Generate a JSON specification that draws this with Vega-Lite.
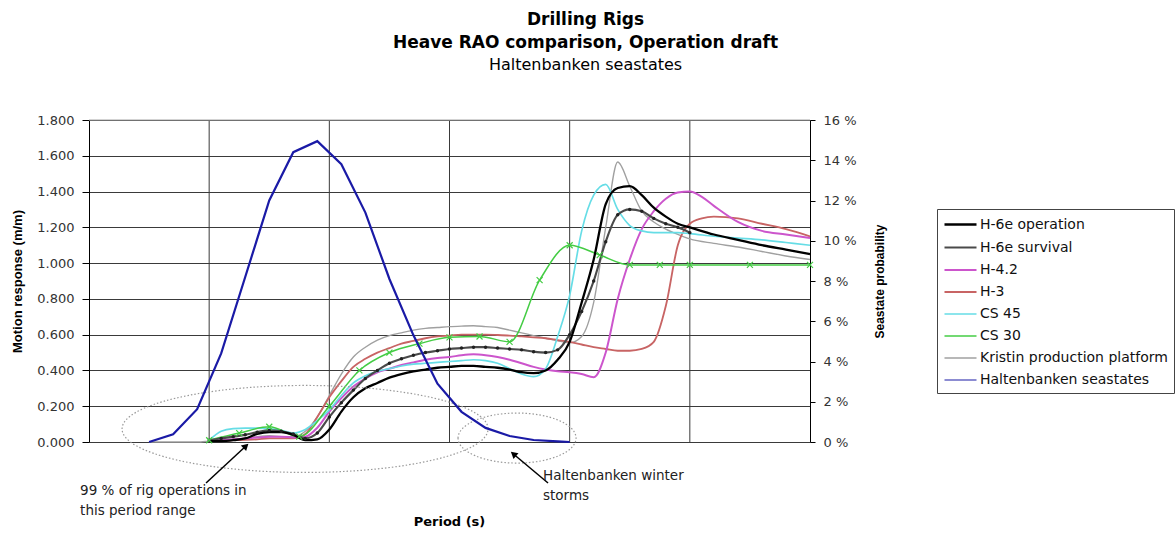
{
  "$schema": "https://vega.github.io/schema/vega-lite/v6.json",
  "width": 721,
  "height": 322,
  "autosize": "none",
  "padding": {"left": 89, "top": 120, "right": 365, "bottom": 93},
  "background": "#ffffff",
  "title": {
    "text": ["Drilling Rigs", "Heave RAO comparison, Operation draft"],
    "subtitle": "Haltenbanken seastates",
    "anchor": "middle",
    "frame": "group",
    "dx": 136,
    "offset": 40,
    "font": "DejaVu Sans",
    "fontSize": 17,
    "fontWeight": "bold",
    "lineHeight": 23,
    "color": "#000",
    "subtitleFont": "DejaVu Sans",
    "subtitleFontSize": 16,
    "subtitleColor": "#000",
    "subtitlePadding": 5,
    "subtitleLineHeight": 20
  },
  "config": {
    "view": {"stroke": null},
    "font": "DejaVu Sans",
    "axis": {
      "labelFont": "DejaVu Sans",
      "labelFontSize": 13,
      "labelColor": "#333",
      "domainColor": "#000",
      "tickColor": "#000",
      "gridColor": "#3a3a3a",
      "gridWidth": 1,
      "titleColor": "#000"
    }
  },
  "datasets": {
    "rao": [
      {"series":"Kristin production platform","t":2.5,"v":0},{"series":"Kristin production platform","t":3,"v":0},{"series":"Kristin production platform","t":3.5,"v":0},{"series":"Kristin production platform","t":4,"v":0},{"series":"Kristin production platform","t":4.5,"v":0},{"series":"Kristin production platform","t":5,"v":0.005},{"series":"Kristin production platform","t":5.5,"v":0.01},{"series":"Kristin production platform","t":6,"v":0.015},{"series":"Kristin production platform","t":6.5,"v":0.02},{"series":"Kristin production platform","t":7,"v":0.03},{"series":"Kristin production platform","t":7.5,"v":0.035},{"series":"Kristin production platform","t":8,"v":0.03},{"series":"Kristin production platform","t":8.5,"v":0.03},{"series":"Kristin production platform","t":9,"v":0.06},{"series":"Kristin production platform","t":9.5,"v":0.14},{"series":"Kristin production platform","t":10,"v":0.26},{"series":"Kristin production platform","t":10.5,"v":0.38},{"series":"Kristin production platform","t":11,"v":0.475},{"series":"Kristin production platform","t":11.5,"v":0.53},{"series":"Kristin production platform","t":12,"v":0.57},{"series":"Kristin production platform","t":12.5,"v":0.595},{"series":"Kristin production platform","t":13,"v":0.61},{"series":"Kristin production platform","t":13.5,"v":0.625},{"series":"Kristin production platform","t":14,"v":0.635},{"series":"Kristin production platform","t":14.5,"v":0.64},{"series":"Kristin production platform","t":15,"v":0.645},{"series":"Kristin production platform","t":15.5,"v":0.648},{"series":"Kristin production platform","t":16,"v":0.65},{"series":"Kristin production platform","t":16.5,"v":0.645},{"series":"Kristin production platform","t":17,"v":0.64},{"series":"Kristin production platform","t":17.5,"v":0.625},{"series":"Kristin production platform","t":18,"v":0.61},{"series":"Kristin production platform","t":18.5,"v":0.595},{"series":"Kristin production platform","t":19,"v":0.58},{"series":"Kristin production platform","t":19.5,"v":0.565},{"series":"Kristin production platform","t":20,"v":0.555},{"series":"Kristin production platform","t":20.5,"v":0.59},{"series":"Kristin production platform","t":21,"v":0.78},{"series":"Kristin production platform","t":21.5,"v":1.2},{"series":"Kristin production platform","t":22,"v":1.565},{"series":"Kristin production platform","t":22.5,"v":1.43},{"series":"Kristin production platform","t":23,"v":1.29},{"series":"Kristin production platform","t":23.5,"v":1.23},{"series":"Kristin production platform","t":24,"v":1.19},{"series":"Kristin production platform","t":24.5,"v":1.16},{"series":"Kristin production platform","t":25,"v":1.135},{"series":"Kristin production platform","t":26,"v":1.11},{"series":"Kristin production platform","t":27,"v":1.09},{"series":"Kristin production platform","t":28,"v":1.065},{"series":"Kristin production platform","t":29,"v":1.04},{"series":"Kristin production platform","t":30,"v":1.02},

      {"series":"H-3","t":5,"v":0.005},{"series":"H-3","t":5.5,"v":0.005},{"series":"H-3","t":6,"v":0.01},{"series":"H-3","t":6.5,"v":0.012},{"series":"H-3","t":7,"v":0.015},{"series":"H-3","t":7.5,"v":0.02},{"series":"H-3","t":8,"v":0.02},{"series":"H-3","t":8.5,"v":0.02},{"series":"H-3","t":9,"v":0.045},{"series":"H-3","t":9.5,"v":0.14},{"series":"H-3","t":10,"v":0.25},{"series":"H-3","t":10.5,"v":0.34},{"series":"H-3","t":11,"v":0.42},{"series":"H-3","t":11.5,"v":0.465},{"series":"H-3","t":12,"v":0.5},{"series":"H-3","t":12.5,"v":0.525},{"series":"H-3","t":13,"v":0.55},{"series":"H-3","t":13.5,"v":0.565},{"series":"H-3","t":14,"v":0.58},{"series":"H-3","t":14.5,"v":0.59},{"series":"H-3","t":15,"v":0.595},{"series":"H-3","t":15.5,"v":0.6},{"series":"H-3","t":16,"v":0.6},{"series":"H-3","t":16.5,"v":0.6},{"series":"H-3","t":17,"v":0.598},{"series":"H-3","t":17.5,"v":0.595},{"series":"H-3","t":18,"v":0.59},{"series":"H-3","t":18.5,"v":0.585},{"series":"H-3","t":19,"v":0.58},{"series":"H-3","t":19.5,"v":0.57},{"series":"H-3","t":20,"v":0.56},{"series":"H-3","t":20.5,"v":0.545},{"series":"H-3","t":21,"v":0.53},{"series":"H-3","t":21.5,"v":0.52},{"series":"H-3","t":22,"v":0.51},{"series":"H-3","t":22.5,"v":0.51},{"series":"H-3","t":23,"v":0.52},{"series":"H-3","t":23.5,"v":0.56},{"series":"H-3","t":24,"v":0.76},{"series":"H-3","t":24.5,"v":1.1},{"series":"H-3","t":25,"v":1.22},{"series":"H-3","t":25.5,"v":1.25},{"series":"H-3","t":26,"v":1.26},{"series":"H-3","t":27,"v":1.25},{"series":"H-3","t":28,"v":1.22},{"series":"H-3","t":29,"v":1.19},{"series":"H-3","t":30,"v":1.15},

      {"series":"H-4.2","t":5,"v":0.005},{"series":"H-4.2","t":5.5,"v":0.01},{"series":"H-4.2","t":6,"v":0.015},{"series":"H-4.2","t":6.5,"v":0.02},{"series":"H-4.2","t":7,"v":0.025},{"series":"H-4.2","t":7.5,"v":0.03},{"series":"H-4.2","t":8,"v":0.03},{"series":"H-4.2","t":8.5,"v":0.025},{"series":"H-4.2","t":9,"v":0.03},{"series":"H-4.2","t":9.5,"v":0.08},{"series":"H-4.2","t":10,"v":0.17},{"series":"H-4.2","t":10.5,"v":0.245},{"series":"H-4.2","t":11,"v":0.31},{"series":"H-4.2","t":11.5,"v":0.355},{"series":"H-4.2","t":12,"v":0.39},{"series":"H-4.2","t":12.5,"v":0.41},{"series":"H-4.2","t":13,"v":0.43},{"series":"H-4.2","t":13.5,"v":0.445},{"series":"H-4.2","t":14,"v":0.46},{"series":"H-4.2","t":14.5,"v":0.47},{"series":"H-4.2","t":15,"v":0.475},{"series":"H-4.2","t":15.5,"v":0.485},{"series":"H-4.2","t":16,"v":0.49},{"series":"H-4.2","t":16.5,"v":0.485},{"series":"H-4.2","t":17,"v":0.475},{"series":"H-4.2","t":17.5,"v":0.46},{"series":"H-4.2","t":18,"v":0.44},{"series":"H-4.2","t":18.5,"v":0.42},{"series":"H-4.2","t":19,"v":0.405},{"series":"H-4.2","t":19.5,"v":0.395},{"series":"H-4.2","t":20,"v":0.39},{"series":"H-4.2","t":20.5,"v":0.38},{"series":"H-4.2","t":21,"v":0.362},{"series":"H-4.2","t":21.5,"v":0.5},{"series":"H-4.2","t":22,"v":0.8},{"series":"H-4.2","t":22.5,"v":1.02},{"series":"H-4.2","t":23,"v":1.19},{"series":"H-4.2","t":23.5,"v":1.29},{"series":"H-4.2","t":24,"v":1.36},{"series":"H-4.2","t":24.5,"v":1.395},{"series":"H-4.2","t":25,"v":1.4},{"series":"H-4.2","t":25.5,"v":1.37},{"series":"H-4.2","t":26,"v":1.32},{"series":"H-4.2","t":27,"v":1.23},{"series":"H-4.2","t":28,"v":1.18},{"series":"H-4.2","t":29,"v":1.16},{"series":"H-4.2","t":30,"v":1.14},

      {"series":"CS 45","t":5,"v":0.01},{"series":"CS 45","t":5.5,"v":0.06},{"series":"CS 45","t":6,"v":0.075},{"series":"CS 45","t":6.5,"v":0.078},{"series":"CS 45","t":7,"v":0.078},{"series":"CS 45","t":7.5,"v":0.075},{"series":"CS 45","t":8,"v":0.065},{"series":"CS 45","t":8.5,"v":0.05},{"series":"CS 45","t":9,"v":0.07},{"series":"CS 45","t":9.5,"v":0.12},{"series":"CS 45","t":10,"v":0.18},{"series":"CS 45","t":10.5,"v":0.26},{"series":"CS 45","t":11,"v":0.33},{"series":"CS 45","t":11.5,"v":0.37},{"series":"CS 45","t":12,"v":0.395},{"series":"CS 45","t":12.5,"v":0.41},{"series":"CS 45","t":13,"v":0.425},{"series":"CS 45","t":13.5,"v":0.435},{"series":"CS 45","t":14,"v":0.44},{"series":"CS 45","t":14.5,"v":0.445},{"series":"CS 45","t":15,"v":0.45},{"series":"CS 45","t":15.5,"v":0.455},{"series":"CS 45","t":16,"v":0.46},{"series":"CS 45","t":16.5,"v":0.455},{"series":"CS 45","t":17,"v":0.44},{"series":"CS 45","t":17.5,"v":0.41},{"series":"CS 45","t":18,"v":0.38},{"series":"CS 45","t":18.5,"v":0.365},{"series":"CS 45","t":19,"v":0.41},{"series":"CS 45","t":19.5,"v":0.59},{"series":"CS 45","t":20,"v":0.82},{"series":"CS 45","t":20.5,"v":1.18},{"series":"CS 45","t":21,"v":1.38},{"series":"CS 45","t":21.5,"v":1.44},{"series":"CS 45","t":22,"v":1.3},{"series":"CS 45","t":22.5,"v":1.21},{"series":"CS 45","t":23,"v":1.18},{"series":"CS 45","t":23.5,"v":1.17},{"series":"CS 45","t":24,"v":1.17},{"series":"CS 45","t":24.5,"v":1.17},{"series":"CS 45","t":25,"v":1.165},{"series":"CS 45","t":26,"v":1.15},{"series":"CS 45","t":27,"v":1.14},{"series":"CS 45","t":28,"v":1.13},{"series":"CS 45","t":29,"v":1.115},{"series":"CS 45","t":30,"v":1.1},

      {"series":"CS 30","t":5,"v":0.01},{"series":"CS 30","t":6.25,"v":0.05},{"series":"CS 30","t":7.5,"v":0.085},{"series":"CS 30","t":8.75,"v":0.03},{"series":"CS 30","t":10,"v":0.2},{"series":"CS 30","t":11.25,"v":0.4},{"series":"CS 30","t":12.5,"v":0.5},{"series":"CS 30","t":13.75,"v":0.55},{"series":"CS 30","t":15,"v":0.585},{"series":"CS 30","t":16.25,"v":0.59},{"series":"CS 30","t":17.5,"v":0.56},{"series":"CS 30","t":18.75,"v":0.905},{"series":"CS 30","t":20,"v":1.1},{"series":"CS 30","t":21.25,"v":1.045},{"series":"CS 30","t":22.5,"v":0.99},{"series":"CS 30","t":23.75,"v":0.99},{"series":"CS 30","t":25,"v":0.99},{"series":"CS 30","t":27.5,"v":0.99},{"series":"CS 30","t":30,"v":0.99},

      {"series":"H-6e survival","t":5,"v":0.01},{"series":"H-6e survival","t":5.5,"v":0.02},{"series":"H-6e survival","t":6,"v":0.03},{"series":"H-6e survival","t":6.5,"v":0.04},{"series":"H-6e survival","t":7,"v":0.055},{"series":"H-6e survival","t":7.5,"v":0.065},{"series":"H-6e survival","t":8,"v":0.06},{"series":"H-6e survival","t":8.5,"v":0.045},{"series":"H-6e survival","t":9,"v":0.02},{"series":"H-6e survival","t":9.5,"v":0.05},{"series":"H-6e survival","t":10,"v":0.14},{"series":"H-6e survival","t":10.5,"v":0.22},{"series":"H-6e survival","t":11,"v":0.29},{"series":"H-6e survival","t":11.5,"v":0.355},{"series":"H-6e survival","t":12,"v":0.4},{"series":"H-6e survival","t":12.5,"v":0.44},{"series":"H-6e survival","t":13,"v":0.465},{"series":"H-6e survival","t":13.5,"v":0.485},{"series":"H-6e survival","t":14,"v":0.5},{"series":"H-6e survival","t":14.5,"v":0.51},{"series":"H-6e survival","t":15,"v":0.52},{"series":"H-6e survival","t":15.5,"v":0.525},{"series":"H-6e survival","t":16,"v":0.53},{"series":"H-6e survival","t":16.5,"v":0.53},{"series":"H-6e survival","t":17,"v":0.525},{"series":"H-6e survival","t":17.5,"v":0.52},{"series":"H-6e survival","t":18,"v":0.515},{"series":"H-6e survival","t":18.5,"v":0.505},{"series":"H-6e survival","t":19,"v":0.5},{"series":"H-6e survival","t":19.5,"v":0.515},{"series":"H-6e survival","t":20,"v":0.6},{"series":"H-6e survival","t":20.5,"v":0.73},{"series":"H-6e survival","t":21,"v":0.9},{"series":"H-6e survival","t":21.5,"v":1.12},{"series":"H-6e survival","t":22,"v":1.27},{"series":"H-6e survival","t":22.5,"v":1.3},{"series":"H-6e survival","t":23,"v":1.29},{"series":"H-6e survival","t":23.5,"v":1.25},{"series":"H-6e survival","t":24,"v":1.22},{"series":"H-6e survival","t":24.5,"v":1.2},{"series":"H-6e survival","t":25,"v":1.17},

      {"series":"H-6e operation","t":5,"v":0.005},{"series":"H-6e operation","t":5.5,"v":0.005},{"series":"H-6e operation","t":6,"v":0.01},{"series":"H-6e operation","t":6.5,"v":0.02},{"series":"H-6e operation","t":7,"v":0.045},{"series":"H-6e operation","t":7.5,"v":0.055},{"series":"H-6e operation","t":8,"v":0.055},{"series":"H-6e operation","t":8.5,"v":0.04},{"series":"H-6e operation","t":9,"v":0.01},{"series":"H-6e operation","t":9.5,"v":0.015},{"series":"H-6e operation","t":10,"v":0.07},{"series":"H-6e operation","t":10.5,"v":0.17},{"series":"H-6e operation","t":11,"v":0.25},{"series":"H-6e operation","t":11.5,"v":0.3},{"series":"H-6e operation","t":12,"v":0.33},{"series":"H-6e operation","t":12.5,"v":0.36},{"series":"H-6e operation","t":13,"v":0.38},{"series":"H-6e operation","t":13.5,"v":0.395},{"series":"H-6e operation","t":14,"v":0.405},{"series":"H-6e operation","t":14.5,"v":0.415},{"series":"H-6e operation","t":15,"v":0.42},{"series":"H-6e operation","t":15.5,"v":0.425},{"series":"H-6e operation","t":16,"v":0.425},{"series":"H-6e operation","t":16.5,"v":0.42},{"series":"H-6e operation","t":17,"v":0.415},{"series":"H-6e operation","t":17.5,"v":0.405},{"series":"H-6e operation","t":18,"v":0.39},{"series":"H-6e operation","t":18.5,"v":0.385},{"series":"H-6e operation","t":19,"v":0.4},{"series":"H-6e operation","t":19.5,"v":0.46},{"series":"H-6e operation","t":20,"v":0.56},{"series":"H-6e operation","t":20.5,"v":0.78},{"series":"H-6e operation","t":21,"v":1.02},{"series":"H-6e operation","t":21.5,"v":1.33},{"series":"H-6e operation","t":22,"v":1.42},{"series":"H-6e operation","t":22.5,"v":1.43},{"series":"H-6e operation","t":23,"v":1.38},{"series":"H-6e operation","t":23.5,"v":1.31},{"series":"H-6e operation","t":24,"v":1.26},{"series":"H-6e operation","t":24.5,"v":1.22},{"series":"H-6e operation","t":25,"v":1.2},{"series":"H-6e operation","t":26,"v":1.16},{"series":"H-6e operation","t":27,"v":1.13},{"series":"H-6e operation","t":28,"v":1.1},{"series":"H-6e operation","t":29,"v":1.075},{"series":"H-6e operation","t":30,"v":1.05}
    ],
    "sea": [
      {"t":2.5,"p":0},{"t":3.5,"p":0.38},{"t":4.5,"p":1.63},{"t":5.5,"p":4.4},{"t":6.5,"p":8.2},{"t":7.5,"p":12.0},{"t":8.5,"p":14.4},{"t":9.5,"p":14.95},{"t":10.5,"p":13.8},{"t":11.5,"p":11.4},{"t":12.5,"p":8.1},{"t":13.5,"p":5.3},{"t":14.5,"p":2.9},{"t":15.5,"p":1.5},{"t":16.5,"p":0.7},{"t":17.5,"p":0.3},{"t":18.5,"p":0.1},{"t":19.5,"p":0.03},{"t":20,"p":0}
    ]
  },
  "layer": [
    {
      "data": {"values": [{"t": 5}, {"t": 10}, {"t": 15}, {"t": 20}, {"t": 25}]},
      "mark": {"type": "rule", "color": "#3a3a3a", "strokeWidth": 1},
      "encoding": {
        "x": {"field": "t", "type": "quantitative", "axis": null}
      }
    },
    {
      "data": {"values": [{"v": 1.8}]},
      "mark": {"type": "rule", "color": "#a8a8a8", "strokeWidth": 1.2},
      "encoding": {
        "y": {"field": "v", "type": "quantitative", "scale": {"domain": [0, 1.8], "nice": false}, "axis": null}
      }
    },
    {
      "data": {"name": "rao"},
      "mark": {"type": "line", "interpolate": "monotone"},
      "encoding": {
        "x": {
          "field": "t", "type": "quantitative",
          "scale": {"domain": [0, 30], "nice": false},
          "axis": {"values": [0, 5, 10, 15, 20, 25, 30], "format": "d", "grid": false, "ticks": true, "tickSize": 4, "labelPadding": 10, "title": null}
        },
        "y": {
          "field": "v", "type": "quantitative",
          "scale": {"domain": [0, 1.8], "nice": false},
          "axis": {"values": [0, 0.2, 0.4, 0.6, 0.8, 1.0, 1.2, 1.4, 1.6, 1.8], "format": ".3f", "grid": true, "tickSize": 7, "labelPadding": 8, "title": "Motion response (m/m)", "titleFont": "Liberation Sans", "titleFontSize": 13, "titleFontWeight": "bold", "titlePadding": 12}
        },
        "color": {
          "field": "series", "type": "nominal",
          "scale": {
            "domain": ["H-6e operation", "H-6e survival", "H-4.2", "H-3", "CS 45", "CS 30", "Kristin production platform", "Haltenbanken seastates"],
            "range": ["#000000", "#4a4a4a", "#cc55cc", "#c86464", "#66dde6", "#44cc44", "#a0a0a0", "#1a1aa6"]
          },
          "legend": {"title": null, "orient": "none", "legendX": 848, "legendY": 89, "direction": "vertical", "strokeColor": "#444", "fillColor": "#ffffff", "padding": 6, "symbolType": "M-1,0L3,0", "symbolSize": 256, "symbolStrokeWidth": 1.5, "labelFont": "DejaVu Sans", "labelFontSize": 14, "labelColor": "#111", "labelOffset": 18, "rowPadding": 6, "labelLimit": 400}
        },
        "strokeWidth": {
          "field": "series", "type": "nominal",
          "scale": {
            "domain": ["H-6e operation", "H-6e survival", "H-4.2", "H-3", "CS 45", "CS 30", "Kristin production platform", "Haltenbanken seastates"],
            "range": [2.3, 1.2, 1.3, 1.3, 1.4, 1.3, 2.0, 2.2]
          },
          "legend": null
        }
      }
    },
    {
      "data": {"values": [{"t": 8.99, "v": 0.073}]},
      "mark": {"type": "point", "shape": "M-1,0 C-1,-0.1312 -0.5523,-0.2376 0,-0.2376 C0.5523,-0.2376 1,-0.1312 1,0 C1,0.1312 0.5523,0.2376 0,0.2376 C-0.5523,0.2376 -1,0.1312 -1,0 Z", "size": 133956, "filled": false, "stroke": "#9a9a9a", "strokeWidth": 1.2, "strokeDash": [1.5, 2], "opacity": 1},
      "encoding": {
        "x": {"field": "t", "type": "quantitative", "axis": null},
        "y": {"field": "v", "type": "quantitative", "scale": {"domain": [0, 1.8], "nice": false}, "axis": null}
      }
    },
    {
      "data": {"values": [{"t": 17.81, "v": 0.022}]},
      "mark": {"type": "point", "shape": "M-1,0 C-1,-0.2342 -0.5523,-0.424 0,-0.424 C0.5523,-0.424 1,-0.2342 1,0 C1,0.2342 0.5523,0.424 0,0.424 C-0.5523,0.424 -1,0.2342 -1,0 Z", "size": 13924, "filled": false, "stroke": "#9a9a9a", "strokeWidth": 1.2, "strokeDash": [1.5, 2], "opacity": 1},
      "encoding": {
        "x": {"field": "t", "type": "quantitative", "axis": null},
        "y": {"field": "v", "type": "quantitative", "scale": {"domain": [0, 1.8], "nice": false}, "axis": null}
      }
    },
    {
      "data": {"values": [{"t": 4.87, "v": -0.229, "t2": 6.53, "v2": -0.022}, {"t": 19.1, "v": -0.229, "t2": 17.66, "v2": -0.067}]},
      "mark": {"type": "rule", "color": "#000", "strokeWidth": 1.5},
      "encoding": {
        "x": {"field": "t", "type": "quantitative", "axis": null},
        "y": {"field": "v", "type": "quantitative", "scale": {"domain": [0, 1.8], "nice": false}, "axis": null},
        "x2": {"field": "t2"},
        "y2": {"field": "v2"}
      }
    },
    {
      "data": {"values": [{"t": 6.53, "v": -0.022}]},
      "mark": {"type": "point", "shape": "triangle-up", "angle": 47, "size": 60, "filled": true, "color": "#000", "opacity": 1},
      "encoding": {
        "x": {"field": "t", "type": "quantitative", "axis": null},
        "y": {"field": "v", "type": "quantitative", "scale": {"domain": [0, 1.8], "nice": false}, "axis": null}
      }
    },
    {
      "data": {"values": [{"t": 17.66, "v": -0.067}]},
      "mark": {"type": "point", "shape": "triangle-up", "angle": 310, "size": 60, "filled": true, "color": "#000", "opacity": 1},
      "encoding": {
        "x": {"field": "t", "type": "quantitative", "axis": null},
        "y": {"field": "v", "type": "quantitative", "scale": {"domain": [0, 1.8], "nice": false}, "axis": null}
      }
    },
    {
      "data": {"values": [{"t": -0.37, "v": -0.235, "label": "99 % of rig operations in\nthis period range"}, {"t": 18.89, "v": -0.151, "label": "Haltenbanken winter\nstorms"}]},
      "mark": {"type": "text", "align": "left", "baseline": "top", "font": "DejaVu Sans", "fontSize": 13.5, "lineHeight": 20, "lineBreak": "\n", "color": "#222"},
      "encoding": {
        "x": {"field": "t", "type": "quantitative", "axis": null},
        "y": {"field": "v", "type": "quantitative", "scale": {"domain": [0, 1.8], "nice": false}, "axis": null},
        "text": {"field": "label"}
      }
    },
    {
      "data": {"values": [{"t": 15, "v": -0.447, "label": "Period (s)"}]},
      "mark": {"type": "text", "align": "center", "baseline": "middle", "font": "DejaVu Sans", "fontSize": 13, "fontWeight": "bold", "color": "#000"},
      "encoding": {
        "x": {"field": "t", "type": "quantitative", "axis": null},
        "y": {"field": "v", "type": "quantitative", "scale": {"domain": [0, 1.8], "nice": false}, "axis": null},
        "text": {"field": "label"}
      }
    },
    {
      "data": {"name": "rao"},
      "transform": [{"filter": "datum.series === 'H-6e survival'"}],
      "mark": {"type": "point", "shape": "circle", "size": 12, "filled": true, "color": "#222222", "opacity": 1},
      "encoding": {
        "x": {"field": "t", "type": "quantitative", "axis": null},
        "y": {"field": "v", "type": "quantitative", "scale": {"domain": [0, 1.8], "nice": false}, "axis": null}
      }
    },
    {
      "data": {"name": "rao"},
      "transform": [{"filter": "datum.series === 'CS 30'"}],
      "mark": {"type": "point", "shape": "M-1,-1L1,1M-1,1L1,-1", "size": 36, "filled": false, "stroke": "#44cc44", "strokeWidth": 1.2, "opacity": 1},
      "encoding": {
        "x": {"field": "t", "type": "quantitative", "axis": null},
        "y": {"field": "v", "type": "quantitative", "scale": {"domain": [0, 1.8], "nice": false}, "axis": null}
      }
    },
    {
      "data": {"name": "sea"},
      "mark": {"type": "line", "color": "#1a1aa6", "strokeWidth": 2.2},
      "encoding": {
        "x": {"field": "t", "type": "quantitative", "axis": null},
        "y": {
          "field": "p", "type": "quantitative",
          "scale": {"domain": [0, 16], "nice": false},
          "axis": {"orient": "right", "values": [0, 2, 4, 6, 8, 10, 12, 14, 16], "labelExpr": "datum.value + ' %'", "grid": false, "tickSize": 5, "labelPadding": 8, "title": "Seastate probability", "titleAngle": 270, "titleFont": "Liberation Sans", "titleFontSize": 12, "titleFontWeight": "bold", "titlePadding": 30}
        }
      }
    }
  ],
  "resolve": {"scale": {"y": "independent"}}
}
